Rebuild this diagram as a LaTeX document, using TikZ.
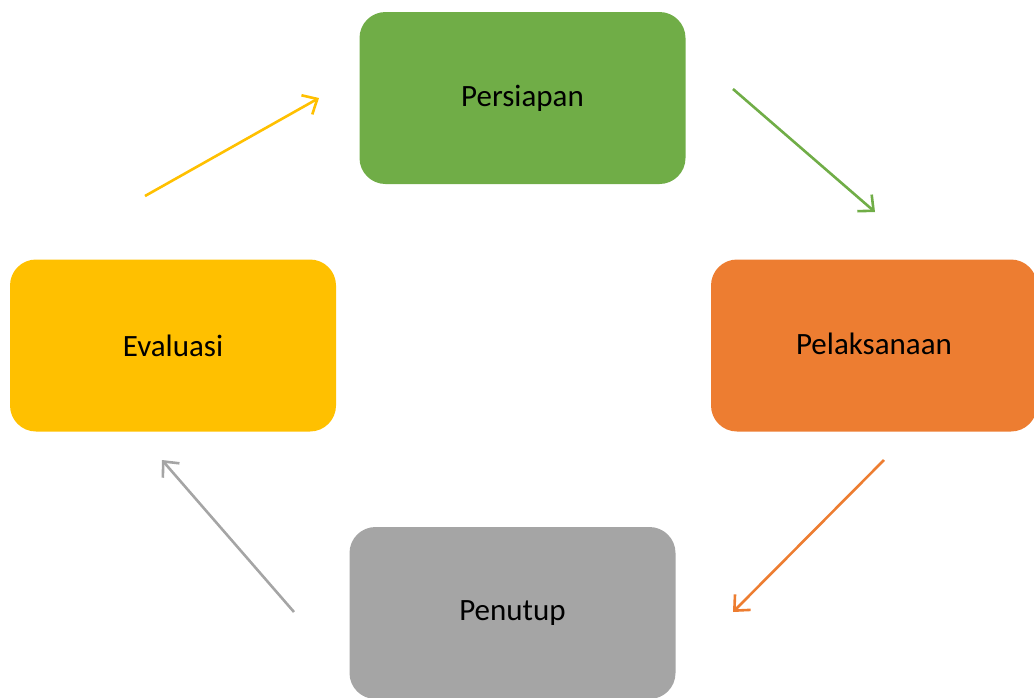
\documentclass[tikz,border=0pt]{standalone}
\usepackage{fontspec}
\setmainfont{Carlito}
\usetikzlibrary{arrows.meta}
\definecolor{cgreen}{HTML}{70AD47}
\definecolor{corange}{HTML}{ED7D31}
\definecolor{cyellow}{HTML}{FFC000}
\definecolor{cgray}{HTML}{A5A5A5}
\tikzset{
  stagebox/.style={rounded corners=26pt, minimum width=326pt, minimum height=172pt, inner sep=0pt, font=\fontsize{31}{36}\selectfont, text=black, anchor=center},
  flowarrow/.style={line width=2.6pt, -{Straight Barb[length=12pt, width=22pt, line width=2.6pt]}}
}
\begin{document}
\begin{tikzpicture}[x=1pt,y=-1pt]
\useasboundingbox (0,0) rectangle (1034,697);
\clip (0,0) rectangle (1034,697);
\node[stagebox, fill=cgreen] (persiapan) at (522.5,98) {\raisebox{3pt}{Persiapan}};
\node[stagebox, fill=corange] (pelaksanaan) at (874,345.5) {\raisebox{3pt}{Pelaksanaan}};
\node[stagebox, fill=cyellow] (evaluasi) at (173,345.5) {Evaluasi};
\node[stagebox, fill=cgray] (penutup) at (512.5,613) {\raisebox{3pt}{Penutup}};
\coordinate (g1) at (733,89);
\coordinate (g2) at (875,212);
\coordinate (o1) at (884,460);
\coordinate (o2) at (733,612);
\coordinate (r1) at (294,612);
\coordinate (r2) at (162,460);
\coordinate (y1) at (145,196);
\coordinate (y2) at (319,98);
\draw[flowarrow, cgreen] (g1) -- (g2);
\draw[flowarrow, corange] (o1) -- (o2);
\draw[flowarrow, cgray] (r1) -- (r2);
\draw[flowarrow, cyellow] (y1) -- (y2);
\end{tikzpicture}
\end{document}
